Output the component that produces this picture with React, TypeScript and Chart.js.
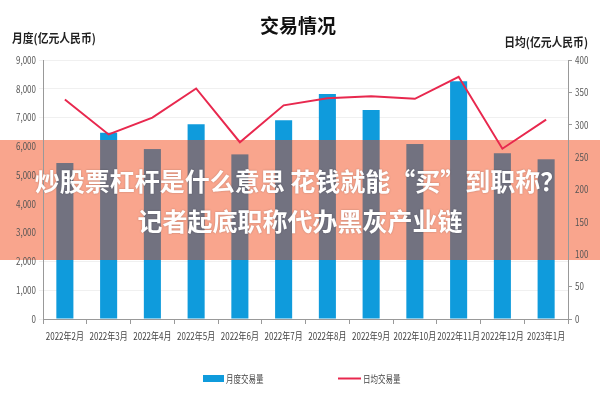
import React, { useEffect, useRef } from 'react';
import { Chart, registerables } from 'chart.js';

Chart.register(...registerables);

const categories = [
  '2022年2月', '2022年3月', '2022年4月', '2022年5月', '2022年6月', '2022年7月',
  '2022年8月', '2022年9月', '2022年10月', '2022年11月', '2022年12月', '2023年1月',
];
const monthlyVolume = [5420, 6470, 5905, 6770, 5720, 6910, 7820, 7260, 6080, 8260, 5760, 5550];
const dailyAverage = [339, 285, 311, 356, 273, 330, 341, 344, 340, 374, 263, 308];
const leftTickValues = [0, 1000, 2000, 3000, 4000, 5000, 6000, 7000, 8000, 9000];
const rightTickValues = [0, 50, 100, 150, 200, 250, 300, 350, 400];

const titleText = '交易情况';
const leftAxisTitle = '月度(亿元人民币)';
const rightAxisTitle = '日均(亿元人民币)';
const barLabel = '月度交易量';
const lineLabel = '日均交易量';
const bannerLines = ['炒股票杠杆是什么意思 花钱就能“买”到职称？', '记者起底职称代办黑灰产业链'];

const CJK = "'Noto Sans CJK SC', sans-serif";
const BLUE = '#0f9bdc';
const RED = '#e8284e';
const SALMON = '#f9a58d';
const GRAY = '#727280';
const BANNER_TOP = 140;
const BANNER_BOTTOM = 260;

function condensed(ctx: any, text: string, x: number, y: number, align: string, sx: number) {
  ctx.save();
  ctx.translate(x, y);
  ctx.scale(sx, 1);
  ctx.textAlign = align;
  ctx.textBaseline = 'middle';
  ctx.fillText(text, 0, 0);
  ctx.restore();
}

const overlayPlugin = {
  id: 'overlay',
  afterDatasetDraw(chart: any, args: any) {
    if (args.meta.type !== 'bar') return;
    const ctx = chart.ctx;
    ctx.save();
    ctx.fillStyle = SALMON;
    ctx.fillRect(0, BANNER_TOP, chart.width, BANNER_BOTTOM - BANNER_TOP);
    ctx.fillStyle = GRAY;
    args.meta.data.forEach((bar: any) => {
      const p = bar.getProps(['x', 'y', 'base', 'width'], true);
      const top = Math.max(p.y, BANNER_TOP);
      const bottom = Math.min(p.base, BANNER_BOTTOM);
      if (bottom > top) ctx.fillRect(p.x - p.width / 2, top, p.width, bottom - top);
    });
    ctx.restore();
  },
  afterDraw(chart: any) {
    const ctx = chart.ctx;
    const { x, y, y1 } = chart.scales;
    const area = chart.chartArea;
    ctx.save();
    // tick labels (condensed)
    ctx.font = `10px ${CJK}`;
    ctx.fillStyle = '#444';
    categories.forEach((c, i) => {
      condensed(ctx, c, x.getPixelForValue(i), 336, 'center', 0.8);
    });
    ctx.fillStyle = '#555';
    leftTickValues.forEach((v) => {
      condensed(ctx, v.toLocaleString('en-US'), area.left - 7, y.getPixelForValue(v), 'right', 0.8);
    });
    rightTickValues.forEach((v) => {
      condensed(ctx, String(v), area.right + 7, y1.getPixelForValue(v), 'left', 0.8);
    });
    // title
    ctx.fillStyle = '#111';
    ctx.textAlign = 'center';
    ctx.textBaseline = 'middle';
    ctx.font = `bold 19px ${CJK}`;
    ctx.fillText(titleText, 298, 26);
    // axis titles
    ctx.font = `bold 12px ${CJK}`;
    ctx.fillStyle = '#222';
    condensed(ctx, leftAxisTitle, 12, 38, 'left', 0.9);
    condensed(ctx, rightAxisTitle, 588, 42, 'right', 0.9);
    // legend
    ctx.fillStyle = BLUE;
    ctx.fillRect(203, 375, 21, 7);
    ctx.strokeStyle = RED;
    ctx.lineWidth = 2;
    ctx.beginPath();
    ctx.moveTo(338, 378.5);
    ctx.lineTo(361, 378.5);
    ctx.stroke();
    ctx.fillStyle = '#444';
    ctx.font = `10px ${CJK}`;
    condensed(ctx, barLabel, 226, 379, 'left', 0.75);
    condensed(ctx, lineLabel, 363, 379, 'left', 0.75);
    // banner text
    ctx.fillStyle = '#ffffff';
    ctx.textAlign = 'center';
    ctx.textBaseline = 'middle';
    ctx.font = `bold 25px ${CJK}`;
    ctx.shadowColor = 'rgba(0,0,0,0.25)';
    ctx.shadowBlur = 2;
    ctx.fillText(bannerLines[0], 300, 181);
    ctx.fillText(bannerLines[1], 300, 221);
    ctx.restore();
  },
};

export default function App() {
  const ref = useRef<HTMLCanvasElement | null>(null);
  useEffect(() => {
    if (!ref.current) return;
    const chart = new Chart(ref.current, {
      type: 'bar',
      data: {
        labels: categories,
        datasets: [
          {
            type: 'bar',
            label: barLabel,
            data: monthlyVolume,
            backgroundColor: BLUE,
            yAxisID: 'y',
            order: 1,
            barPercentage: 0.39,
            categoryPercentage: 1,
          },
          {
            type: 'line',
            label: lineLabel,
            data: dailyAverage,
            borderColor: RED,
            borderWidth: 2,
            pointRadius: 0,
            tension: 0,
            fill: false,
            yAxisID: 'y1',
            order: 0,
          } as any,
        ],
      },
      options: {
        animation: false,
        responsive: false,
        maintainAspectRatio: false,
        layout: { padding: { left: 8, right: 0, top: 60, bottom: 0 } },
        plugins: { legend: { display: false }, tooltip: { enabled: false }, title: { display: false } },
        scales: {
          x: {
            offset: true,
            grid: { display: true, drawOnChartArea: false, drawTicks: true, tickLength: 5, color: '#999', offset: true },
            border: { color: '#999', width: 1 },
            ticks: { display: false },
            afterFit: (s: any) => { s.height = 81; },
          },
          y: {
            position: 'left',
            min: 0,
            max: 9000,
            ticks: { stepSize: 1000, display: false },
            grid: { color: '#f0f0f0', tickLength: 4, drawTicks: true },
            border: { color: '#999', z: 1 },
            afterFit: (s: any) => { s.width = 35; },
          },
          y1: {
            position: 'right',
            min: 0,
            max: 400,
            ticks: { stepSize: 50, display: false },
            grid: { drawOnChartArea: false, color: '#999', tickLength: 4 },
            border: { color: '#999', z: 1 },
            afterFit: (s: any) => { s.width = 32; },
          },
        },
      },
      plugins: [overlayPlugin],
    });
    return () => chart.destroy();
  }, []);
  return (
    <div style={{ position: 'absolute', left: 0, top: 0, width: 600, height: 400, background: '#fff' }}>
      <canvas ref={ref} width={600} height={400} style={{ width: 600, height: 400 }} />
    </div>
  );
}
